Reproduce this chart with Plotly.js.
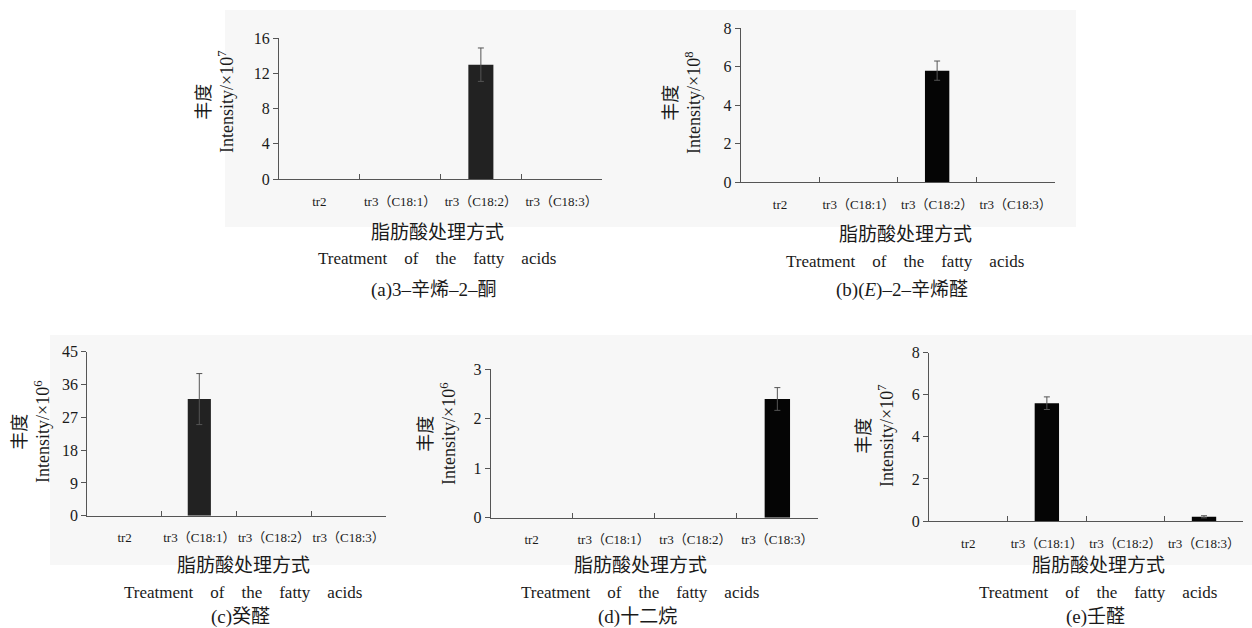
<!DOCTYPE html>
<html>
<head>
<meta charset="utf-8">
<script src="https://cdn.plot.ly/plotly-3.0.1.min.js"></script>
<style>html,body{margin:0;padding:0;background:#fff;}#chart{width:1252px;height:628px;}</style>
</head>
<body>
<div id="chart"></div>
<script>
// ---- data ----
const categories = ['tr2', 'tr3（C18:1）', 'tr3（C18:2）', 'tr3（C18:3）'];
const valuesA = [0, 0, 13, 0];     const errorsA = [0, 0, 1.9, 0];
const valuesB = [0, 0, 5.8, 0];    const errorsB = [0, 0, 0.5, 0];
const valuesC = [0, 32, 0, 0];     const errorsC = [0, 7, 0, 0];
const valuesD = [0, 0, 0, 2.4];    const errorsD = [0, 0, 0, 0.23];
const valuesE = [0, 5.6, 0, 0.2];  const errorsE = [0, 0.3, 0, 0.05];
const yMaxes = [16, 8, 45, 3, 8];
const yDticks = [4, 2, 9, 1, 2];
const exponents = ['7', '8', '6', '6', '7'];
const captions = ['(a)3–辛烯–2–酮', '(b)(<i>E</i>)–2–辛烯醛', '(c)癸醛', '(d)十二烷', '(e)壬醛'];
const xTitleCn = '脂肪酸处理方式';
const xTitleEn = 'Treatment\u00A0\u00A0\u00A0 of\u00A0\u00A0\u00A0 the\u00A0\u00A0\u00A0 fatty\u00A0\u00A0\u00A0 acids';
const yTitleCn = '丰度';

// ---- layout geometry (pixels) ----
const W = 1252, H = 628;
const panels = [
  {x0: 279,   x1: 602,    y0: 38.3,  y1: 179,   ytx: 216, yty: 102, tx: 437, cy1: 233, cy2: 258, cy3: 290, bar: '#222'},
  {x0: 740.7, x1: 1055,   y0: 28.3,  y1: 182.3, ytx: 682, yty: 103, tx: 905, cy1: 235, cy2: 261, cy3: 290, bar: '#050505'},
  {x0: 87.3,  x1: 386,    y0: 351.7, y1: 515.7, ytx: 31,  yty: 432, tx: 243, cy1: 565, cy2: 592, cy3: 617, bar: '#222'},
  {x0: 490.7, x1: 818.3,  y0: 369.3, y1: 517.7, ytx: 437, yty: 434, tx: 640, cy1: 565, cy2: 592, cy3: 617, bar: '#050505'},
  {x0: 929,   x1: 1243.3, y0: 352.7, y1: 521,   ytx: 875, yty: 436, tx: 1098, cy1: 565, cy2: 592, cy3: 617, bar: '#050505'}
];
const allValues = [valuesA, valuesB, valuesC, valuesD, valuesE];
const allErrors = [errorsA, errorsB, errorsC, errorsD, errorsE];

const serif = 'Liberation Serif, Noto Sans CJK SC, serif';
const px = v => v / W;
const py = v => 1 - v / H;

const data = [];
const layout = {
  width: W, height: H,
  margin: {l: 0, r: 0, t: 0, b: 0},
  paper_bgcolor: '#ffffff',
  plot_bgcolor: 'rgba(0,0,0,0)',
  showlegend: false,
  bargap: 0.69,
  font: {family: serif, color: '#1a1a1a'},
  annotations: [],
  shapes: [
    {type: 'rect', xref: 'paper', yref: 'paper', layer: 'below',
     x0: px(225), x1: px(1076), y0: py(227), y1: py(10),
     fillcolor: '#f7f7f7', line: {width: 0}},
    {type: 'rect', xref: 'paper', yref: 'paper', layer: 'below',
     x0: px(50), x1: px(1252), y0: py(565), y1: py(335),
     fillcolor: '#f7f7f7', line: {width: 0}}
  ]
};

panels.forEach((p, i) => {
  const n = i === 0 ? '' : String(i + 1);
  const vals = allValues[i], errs = allErrors[i];
  data.push({
    type: 'bar',
    x: categories,
    y: vals,
    xaxis: 'x' + n, yaxis: 'y' + n,
    marker: {color: p.bar, line: {width: 0}},
    hoverinfo: 'x+y'
  });
  // error bars only where an error exists
  const idx = errs.map((e, k) => k).filter(k => errs[k] > 0);
  data.push({
    type: 'scatter', mode: 'markers',
    x: idx.map(k => categories[k]),
    y: idx.map(k => vals[k]),
    xaxis: 'x' + n, yaxis: 'y' + n,
    marker: {size: 1, opacity: 0},
    error_y: {type: 'data', array: idx.map(k => errs[k]), visible: true, color: '#555', thickness: 1, width: 3},
    hoverinfo: 'skip'
  });
  layout['xaxis' + n] = {
    domain: [px(p.x0), px(p.x1)],
    anchor: 'y' + n,
    type: 'category',
    categoryorder: 'array', categoryarray: categories,
    range: [-0.5, 3.5],
    showline: true, linecolor: '#555', linewidth: 1,
    ticks: 'inside', tickson: 'boundaries', ticklen: 5, tickcolor: '#555',
    showgrid: false, zeroline: false,
    tickangle: 0,
    tickfont: {family: serif, size: 13, color: '#1a1a1a'},
    ticklabelstandoff: 10
  };
  layout['yaxis' + n] = {
    domain: [py(p.y1), py(p.y0)],
    anchor: 'x' + n,
    range: [0, yMaxes[i]],
    dtick: yDticks[i], tick0: 0,
    showline: true, linecolor: '#555', linewidth: 1,
    ticks: 'outside', ticklen: 5, tickcolor: '#555',
    showgrid: false, zeroline: false,
    tickfont: {family: serif, size: 16, color: '#1a1a1a'}
  };
  layout.annotations.push({
    xref: 'paper', yref: 'paper', x: px(p.ytx), y: py(p.yty),
    xanchor: 'center', yanchor: 'middle', textangle: -90, showarrow: false,
    text: yTitleCn + '<br>Intensity/×10<sup>' + exponents[i] + '</sup>',
    font: {family: serif, size: 18, color: '#1a1a1a'}
  });
  layout.annotations.push({
    xref: 'paper', yref: 'paper', x: px(p.tx), y: py(p.cy1),
    xanchor: 'center', yanchor: 'middle', showarrow: false,
    text: xTitleCn, font: {family: serif, size: 19, color: '#1a1a1a'}
  });
  layout.annotations.push({
    xref: 'paper', yref: 'paper', x: px(p.tx), y: py(p.cy2),
    xanchor: 'center', yanchor: 'middle', showarrow: false,
    text: xTitleEn, font: {family: serif, size: 17, color: '#1a1a1a'}
  });
  layout.annotations.push({
    xref: 'paper', yref: 'paper', x: px(p.tx - 3), y: py(p.cy3),
    xanchor: 'center', yanchor: 'middle', showarrow: false,
    text: captions[i], font: {family: serif, size: 19, color: '#1a1a1a'}
  });
});

Plotly.newPlot('chart', data, layout, {displayModeBar: false, staticPlot: true});
</script>
</body>
</html>
